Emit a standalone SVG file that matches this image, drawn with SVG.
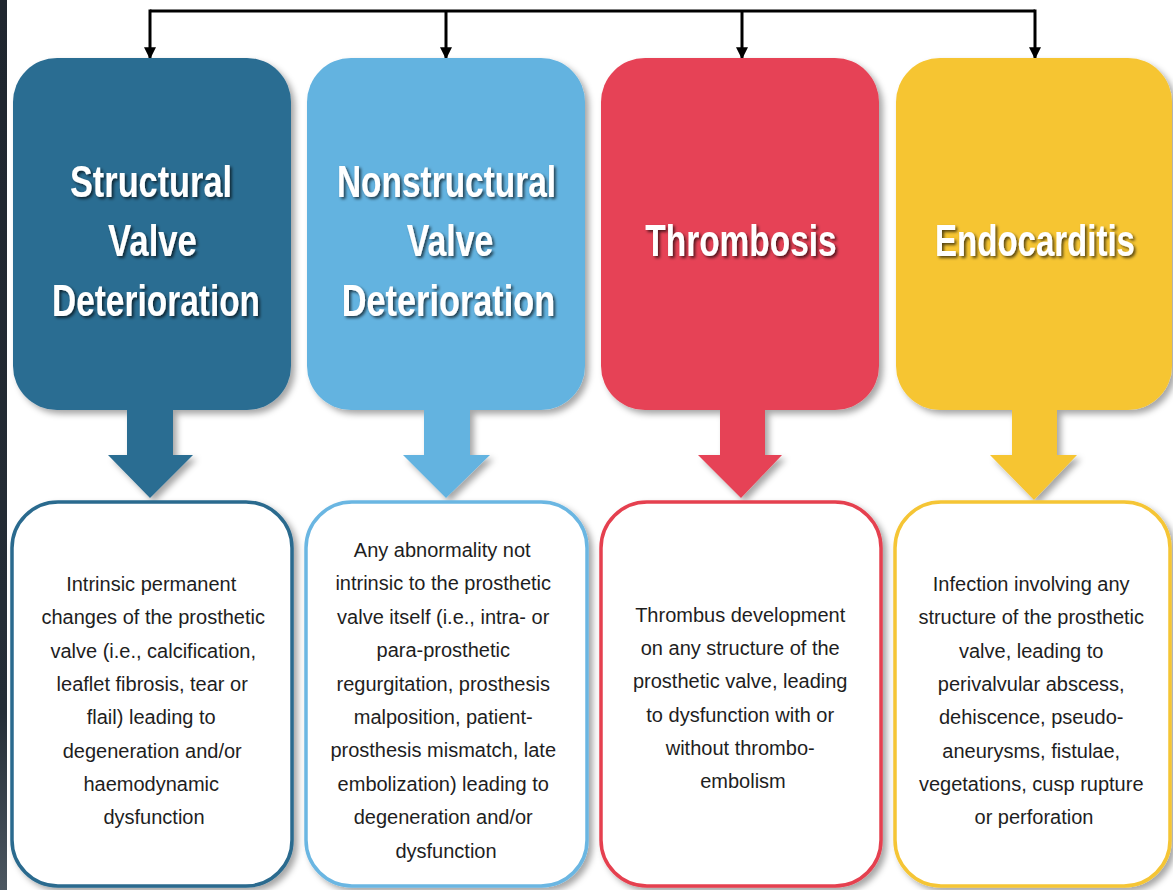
<svg xmlns="http://www.w3.org/2000/svg" width="1173" height="890" viewBox="0 0 1173 890">
  <defs>
    <linearGradient id="stripe" x1="0" y1="0" x2="0" y2="1">
      <stop offset="0" stop-color="#1f262f"/>
      <stop offset="0.8" stop-color="#252d36"/>
      <stop offset="1" stop-color="#4c5761"/>
    </linearGradient>
    <filter id="shadow" x="-10%" y="-10%" width="125%" height="125%">
      <feDropShadow dx="4" dy="4" stdDeviation="3" flood-color="#000" flood-opacity="0.35"/>
    </filter>
    <filter id="tshadow" x="-10%" y="-20%" width="125%" height="150%">
      <feDropShadow dx="2" dy="2" stdDeviation="1.5" flood-color="#000" flood-opacity="0.65"/>
    </filter>
    <marker id="arr" viewBox="0 0 10 10" refX="9" refY="5" markerWidth="4" markerHeight="4" markerUnits="strokeWidth" orient="auto">
      <path d="M0,0 L10,5 L0,10 z" fill="#000"/>
    </marker>
  </defs>
  <style>
    .hdr { font-family: "Liberation Sans", Arial, sans-serif; font-weight: bold; font-size: 44px; fill: #ffffff; text-anchor: middle; }
    .body { font-family: "Liberation Sans", Arial, sans-serif; font-size: 20px; fill: #1e1e1e; text-anchor: middle; }
    .conn { stroke: #000; stroke-width: 3; fill: none; }
    .card { fill: #ffffff; stroke-width: 3.5; }
  </style>

  <rect x="0" y="0" width="1173" height="890" fill="#ffffff"/>
  <rect x="0" y="0" width="7" height="890" fill="url(#stripe)"/>

  <g id="connectors">
    <path class="conn" d="M150,11 L1035,11"/>
    <path class="conn" d="M150,9.5 L150,58" marker-end="url(#arr)"/>
    <path class="conn" d="M446,11 L446,58" marker-end="url(#arr)"/>
    <path class="conn" d="M742,11 L742,58" marker-end="url(#arr)"/>
    <path class="conn" d="M1035,9.5 L1035,58" marker-end="url(#arr)"/>
  </g>

  <g id="node-svd">
    <g filter="url(#shadow)" fill="#2c6d92">
      <rect x="13" y="58" width="278" height="352" rx="44"/>
      <path d="M127,400 L173,400 L173,455 L193,455 L150,498 L108,455 L127,455 z"/>
    </g>
    <g filter="url(#tshadow)">
      <text class="hdr" transform="translate(151,197) scale(0.78,1)">Structural</text>
      <text class="hdr" transform="translate(152.5,256) scale(0.79,1)">Valve</text>
      <text class="hdr" transform="translate(156,316) scale(0.76,1)">Deterioration</text>
    </g>
  </g>
  <g id="desc-svd">
    <rect class="card" x="12" y="502" width="280" height="384" rx="46" stroke="#2a6a8e" filter="url(#shadow)"/>
    <text class="body">
      <tspan x="154" y="591">Intrinsic permanent</tspan>
      <tspan x="156" dy="33.3">changes of the prosthetic</tspan>
      <tspan x="156" dy="33.3">valve (i.e., calcification,</tspan>
      <tspan x="155" dy="33.3">leaflet fibrosis, tear or</tspan>
      <tspan x="154" dy="33.3">flail) leading to</tspan>
      <tspan x="155" dy="33.3">degeneration and/or</tspan>
      <tspan x="154" dy="33.3">haemodynamic</tspan>
      <tspan x="154" dy="33.3">dysfunction</tspan>
    </text>
  </g>

  <g id="node-nsvd">
    <g filter="url(#shadow)" fill="#63b3e0">
      <rect x="307" y="58" width="278" height="352" rx="44"/>
      <path d="M424,400 L470,400 L470,455 L490,455 L446,498 L403,455 L424,455 z"/>
    </g>
    <g filter="url(#tshadow)">
      <text class="hdr" transform="translate(446.5,197) scale(0.76,1)">Nonstructural</text>
      <text class="hdr" transform="translate(450,256) scale(0.77,1)">Valve</text>
      <text class="hdr" transform="translate(448.5,316) scale(0.78,1)">Deterioration</text>
    </g>
  </g>
  <g id="desc-nsvd">
    <rect class="card" x="306" y="502" width="281" height="384" rx="46" stroke="#6bb6e2" filter="url(#shadow)"/>
    <text class="body">
      <tspan x="445" y="557">Any abnormality not</tspan>
      <tspan x="446" dy="33.4">intrinsic to the prosthetic</tspan>
      <tspan x="446" dy="33.4">valve itself (i.e., intra- or</tspan>
      <tspan x="446" dy="33.4">para-prosthetic</tspan>
      <tspan x="446" dy="33.4">regurgitation, prosthesis</tspan>
      <tspan x="446" dy="33.4">malposition, patient-</tspan>
      <tspan x="446" dy="33.4">prosthesis mismatch, late</tspan>
      <tspan x="446" dy="33.4">embolization) leading to</tspan>
      <tspan x="446" dy="33.4">degeneration and/or</tspan>
      <tspan x="446" dy="33.4">dysfunction</tspan>
    </text>
  </g>

  <g id="node-thrombosis">
    <g filter="url(#shadow)" fill="#e64356">
      <rect x="601" y="58" width="278" height="352" rx="44"/>
      <path d="M720,400 L765,400 L765,455 L782,455 L741,498 L698,455 L720,455 z"/>
    </g>
    <g filter="url(#tshadow)">
      <text class="hdr" transform="translate(741,256) scale(0.76,1)">Thrombosis</text>
    </g>
  </g>
  <g id="desc-thrombosis">
    <rect class="card" x="601" y="502" width="280" height="384" rx="46" stroke="#e5404f" filter="url(#shadow)"/>
    <text class="body">
      <tspan x="743" y="622">Thrombus development</tspan>
      <tspan x="743" dy="33.2">on any structure of the</tspan>
      <tspan x="743" dy="33.2">prosthetic valve, leading</tspan>
      <tspan x="743" dy="33.2">to dysfunction with or</tspan>
      <tspan x="743" dy="33.2">without thrombo-</tspan>
      <tspan x="743" dy="33.2">embolism</tspan>
    </text>
  </g>

  <g id="node-endocarditis">
    <g filter="url(#shadow)" fill="#f6c532">
      <rect x="896" y="58" width="276" height="352" rx="44"/>
      <path d="M1012,400 L1057,400 L1057,455 L1077,455 L1034,500 L990,455 L1012,455 z"/>
    </g>
    <g filter="url(#tshadow)">
      <text class="hdr" transform="translate(1035,256) scale(0.75,1)">Endocarditis</text>
    </g>
  </g>
  <g id="desc-endocarditis">
    <rect class="card" x="895" y="502" width="275" height="384" rx="46" stroke="#f5c534" filter="url(#shadow)"/>
    <text class="body">
      <tspan x="1034" y="591">Infection involving any</tspan>
      <tspan x="1034" dy="33.3">structure of the prosthetic</tspan>
      <tspan x="1034" dy="33.3">valve, leading to</tspan>
      <tspan x="1034" dy="33.3">perivalvular abscess,</tspan>
      <tspan x="1034" dy="33.3">dehiscence, pseudo-</tspan>
      <tspan x="1034" dy="33.3">aneurysms,  fistulae,</tspan>
      <tspan x="1034" dy="33.3">vegetations, cusp rupture</tspan>
      <tspan x="1034" dy="33.3">or perforation</tspan>
    </text>
  </g>
</svg>
